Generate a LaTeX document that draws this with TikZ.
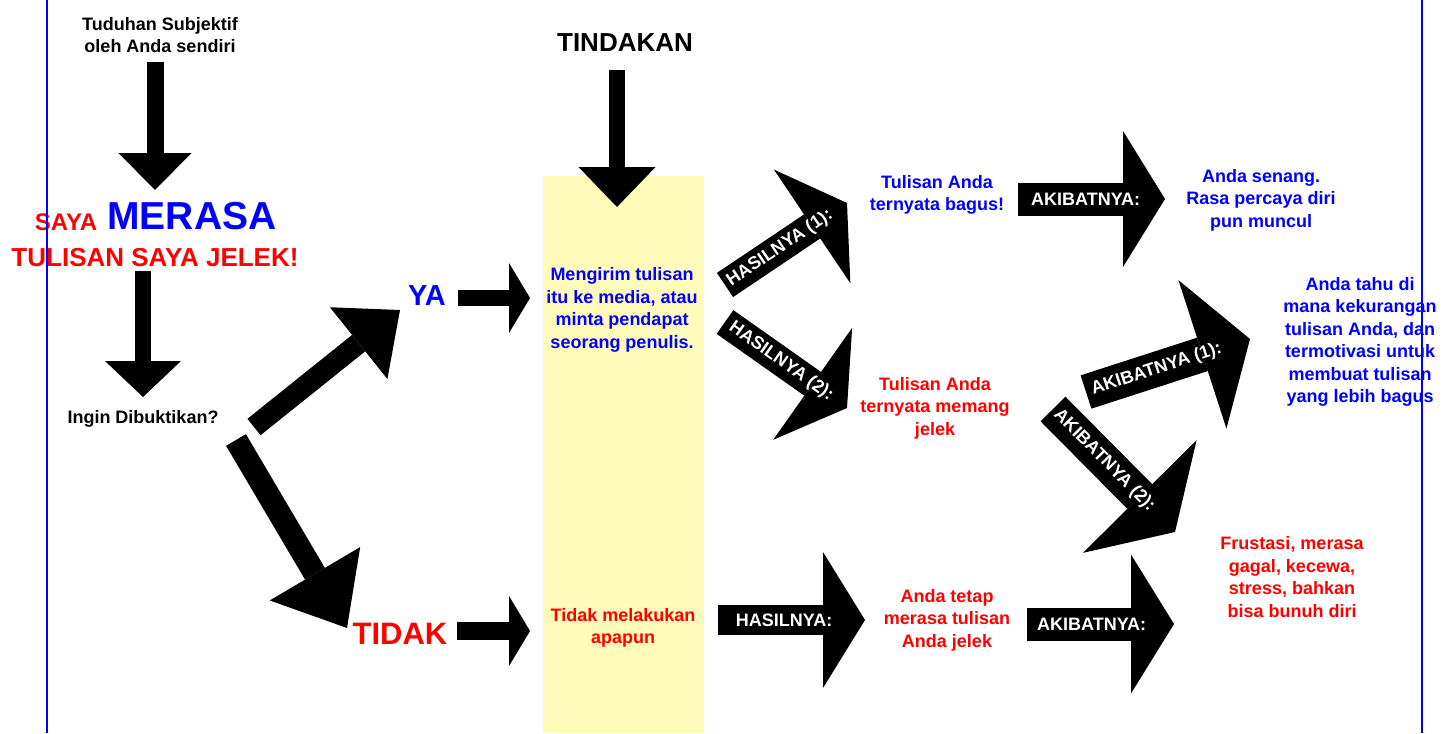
\documentclass[tikz,border=0pt]{standalone}
\usepackage{fontspec}
\setmainfont{Liberation Sans}
\usetikzlibrary{arrows.meta}

\begin{document}
\begin{tikzpicture}[x=1pt,y=-1pt,
		fat/.style n args={3}{line width=#1,-{Triangle[width=#2,length=#3,line width=0pt]}},
		txt/.style={align=center,inner sep=0pt,font=\bfseries\fontsize{18}{22.5}\selectfont},
		lbl/.style={sloped,text=white,inner sep=0pt,font=\bfseries\fontsize{18}{18}\selectfont},
		big/.style={inner sep=0pt,font=\bfseries\fontsize{#1}{#1}\selectfont}]
			\fill[white] (0,0) rectangle (1455,733);
			\useasboundingbox (0,0) rectangle (1455,733);
			\fill[yellow!27] (543,176) rectangle (704,733);
			
			\node[txt] (tuduhan) at (160,35) {Tuduhan Subjektif\\oleh Anda sendiri};
			\node[big=24,text=red] (saya) at (66,222) {SAYA};
			\node[big=39,text=blue] (merasa) at (192,216) {MERASA};
			\node[big=26,text=red] (jelek) at (155,258) {TULISAN SAYA JELEK!};
			\node[txt] (ingin) at (143,419) {Ingin Dibuktikan?};
			\node[big=29,text=blue] (ya) at (427,296) {YA};
			\node[big=31,text=red] (tidak) at (400,634) {TIDAK};
			\node[big=26] (tindakan) at (625,43) {TINDAKAN};
			\node[txt,text=blue] (mengirim) at (622,310) {Mengirim tulisan\\itu ke media, atau\\minta pendapat\\seorang penulis.};
			\node[txt,text=red] (diam) at (623,628) {Tidak melakukan\\apapun};
			\node[txt,text=blue] (bagus) at (937,195) {Tulisan Anda\\ternyata bagus!};
			\node[txt,text=red] (memang) at (935,408) {Tulisan Anda\\ternyata memang\\jelek};
			\node[txt,text=red] (tetap) at (947,620) {Anda tetap\\merasa tulisan\\Anda jelek};
			\node[txt,text=blue] (senang) at (1261,200) {Anda senang.\\Rasa percaya diri\\pun muncul};
			\node[txt,text=blue] (tahu) at (1360,342) {Anda tahu di\\mana kekurangan\\tulisan Anda, dan\\termotivasi untuk\\membuat tulisan\\yang lebih bagus};
			\node[txt,text=red] (frustasi) at (1292,577) {Frustasi, merasa\\gagal, kecewa,\\stress, bahkan\\bisa bunuh diri};
			
			\coordinate (d1a) at (155,62); \coordinate (d1b) at (155,190);
			\coordinate (d2a) at (143,271); \coordinate (d2b) at (143,397);
			\coordinate (d3a) at (617,70); \coordinate (d3b) at (617,207);
			\coordinate (yaa) at (254,427); \coordinate (yab) at (400,310);
			\coordinate (tda) at (236,440); \coordinate (tdb) at (347,628);
			\coordinate (ya2a) at (458,298); \coordinate (ya2b) at (530,298);
			\coordinate (td2a) at (457,631); \coordinate (td2b) at (530,631);
			\coordinate (h1a) at (725,285); \coordinate (h1b) at (847,203);
			\coordinate (h2a) at (725,322); \coordinate (h2b) at (847,408);
			\coordinate (h0a) at (718,620); \coordinate (h0b) at (865,620);
			\coordinate (k0a) at (1018,199); \coordinate (k0b) at (1165,199);
			\coordinate (k3a) at (1027,624); \coordinate (k3b) at (1174,624);
			\coordinate (k1a) at (1086,392); \coordinate (k1b) at (1250,339);
			\coordinate (k2a) at (1053,409); \coordinate (k2b) at (1175,532);
			
			\draw[fat={17pt}{73pt}{37pt}] (d1a) -- (d1b);
			\draw[fat={16pt}{76pt}{36pt}] (d2a) -- (d2b);
			\draw[fat={16pt}{77pt}{40pt}] (d3a) -- (d3b);
			\draw[fat={21pt}{92pt}{53pt}] (yaa) -- (yab);
			\draw[fat={23pt}{105pt}{63pt}] (tda) -- (tdb);
			\draw[fat={16pt}{70pt}{21pt}] (ya2a) -- (ya2b);
			\draw[fat={18pt}{70pt}{21pt}] (td2a) -- (td2b);
			\draw[fat={29pt}{137pt}{42pt}] (h1a) -- node[lbl,pos=0.45]{HASILNYA (1):} (h1b);
			\draw[fat={29pt}{137pt}{42pt}] (h2a) -- node[lbl,pos=0.46]{HASILNYA (2):} (h2b);
			\draw[fat={30pt}{136pt}{42pt}] (h0a) -- node[lbl,pos=0.45]{HASILNYA:} (h0b);
			\draw[fat={33pt}{136pt}{42pt}] (k0a) -- node[lbl,pos=0.46]{AKIBATNYA:} (k0b);
			\draw[fat={33pt}{139pt}{43pt}] (k3a) -- node[lbl,pos=0.44]{AKIBATNYA:} (k3b);
			\draw[fat={35pt}{156pt}{50pt}] (k1a) -- node[lbl,pos=0.43]{AKIBATNYA (1):} (k1b);
			\draw[fat={35pt}{160pt}{50pt}] (k2a) -- node[lbl,pos=0.42]{AKIBATNYA (2):} (k2b);
			
			\draw[blue,line width=2pt] (47,0) -- (47,733) (1422,0) -- (1422,733);
		\end{tikzpicture}
\end{document}
